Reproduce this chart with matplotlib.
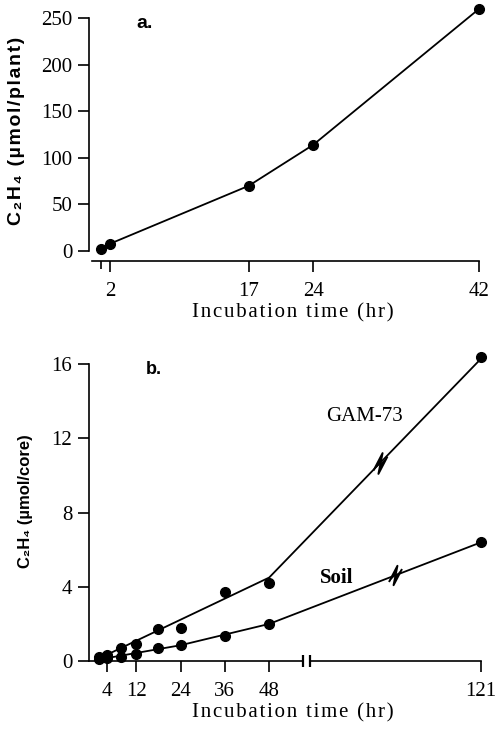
import numpy as np
import matplotlib
matplotlib.use("Agg")
import matplotlib.pyplot as plt
from matplotlib.path import Path

# ---- panel a : per plant ----
hrs_a = [1, 2, 17, 24, 42]
c2h4_a = [2, 8, 70, 114, 260]
xticks_a = [2, 17, 24, 42]
yticks_a = [0, 50, 100, 150, 200, 250]

# ---- panel b : soil cores ----
hrs_b = [2, 4, 8, 12, 18, 24, 36, 48, 121]
gam73 = [0.2, 0.35, 0.7, 0.9, 1.7, 1.8, 3.7, 4.2, 16.4]
soil = [0.1, 0.15, 0.2, 0.4, 0.7, 0.85, 1.35, 2.0, 6.4]
# hand drawn lines of the original
gam73_line_x = [1, 48, 121]
gam73_line_y = [0.05, 4.5, 16.3]
soil_line_x = [1, 24, 48, 121]
soil_line_y = [0.05, 0.85, 2.0, 6.4]
xticks_b = [4, 12, 24, 36, 48, 121]
yticks_b = [0, 4, 8, 12, 16]

SERIF = ["Liberation Serif", "DejaVu Serif"]
SANS = ["Liberation Sans", "DejaVu Sans"]
plt.rcParams["font.family"] = SERIF

def spaced(s, sep="\u200a"):
    # the original labels are letter spaced
    return sep.join(s)

XLABEL = spaced("Incubation time (hr)")

# axis compressed after 48 h (broken axis)
K = 0.786
def fwd(x):
    x = np.asarray(x, float)
    return np.where(x <= 48, x, 48 + (x - 48) * K)
def inv(y):
    y = np.asarray(y, float)
    return np.where(y <= 48, y, 48 + (y - 48) / K)

# little zig-zag break mark drawn on the lines
zig = Path([(-0.5, -0.5), (0.15, 0.75), (-0.15, -0.75), (0.5, 0.5)],
           [Path.MOVETO, Path.LINETO, Path.LINETO, Path.LINETO])

W, H = 501, 730
fig = plt.figure(figsize=(W / 100, H / 100), dpi=100)

def style(ax):
    for s in ["top", "right"]:
        ax.spines[s].set_visible(False)
    for s in ["left", "bottom"]:
        ax.spines[s].set_linewidth(1.2)
    ax.tick_params(which="both", direction="out", width=1.2, length=8, pad=4,
                   labelsize=15)
    ax.tick_params(axis="x", which="both", pad=7)
    ax.tick_params(axis="x", which="minor", length=6)

# ---------------- a ----------------
ax1 = fig.add_axes([89 / W, (H - 251) / H, 391 / W, 244 / H])
style(ax1)
ax1.plot(hrs_a, c2h4_a, "k-", lw=1.3, marker="o", ms=7, clip_on=False)
ax1.set_xlim(-0.33, 42.1)
ax1.set_ylim(0, 262)
ax1.spines["bottom"].set_position(("outward", 7.5))
ax1.spines["bottom"].set_bounds(0, 42)
ax1.spines["left"].set_bounds(0, 250)
ax1.set_xticks(xticks_a)
ax1.set_xticks([1], minor=True)
ax1.set_yticks(yticks_a)
ax1.set_xlabel(XLABEL, fontsize=15)
ax1.xaxis.set_label_coords((293 - 89) / 391, -(303 - 251) / 244)
ax1.set_ylabel(spaced("C₂H₄ (µmol/plant)"), family=SANS, fontweight="bold",
               fontsize=14)
ax1.yaxis.set_label_coords(-(89 - 25) / 391, (251 - 131) / 244)
ax1.text(0.143, 0.934, "a.", transform=ax1.transAxes, family=SANS,
         fontweight="bold", fontsize=14, ha="center", va="center")

# ---------------- b ----------------
ax2 = fig.add_axes([89 / W, (H - 661) / H, 392 / W, 306 / H])
style(ax2)
ax2.set_xscale("function", functions=(fwd, inv))
ax2.set_xlim(-0.8, 121)
ax2.set_ylim(0, 16.5)
ax2.spines["left"].set_bounds(0, 16)
ax2.spines["bottom"].set_visible(False)
# broken x axis line
ax2.plot([-0.8, 59.8], [0, 0], "k-", lw=1.2, clip_on=False)
ax2.plot([62.2, 121], [0, 0], "k-", lw=1.2, clip_on=False)
ax2.plot([59.8, 62.2], [0, 0], ls="none", marker="|", ms=9, mew=1.6,
         color="k", clip_on=False)

ax2.plot(gam73_line_x, gam73_line_y, "k-", lw=1.3)
ax2.plot(soil_line_x, soil_line_y, "k-", lw=1.3)
ax2.plot(hrs_b, gam73, "ko", ms=7, clip_on=False)
ax2.plot(hrs_b, soil, "ko", ms=7, clip_on=False)
ax2.plot([86.3], [np.interp(86.3, gam73_line_x, gam73_line_y)], ls="none",
         marker=zig, ms=15, mew=1.4, color="k")
ax2.plot([91.4], [np.interp(91.4, soil_line_x, soil_line_y)], ls="none",
         marker=zig, ms=14, mew=1.4, color="k")

ax2.set_xticks(xticks_b)
ax2.set_yticks(yticks_b)
ax2.set_xlabel(XLABEL, fontsize=15)
ax2.xaxis.set_label_coords((293 - 89) / 392, -(703 - 661) / 306)
ax2.set_ylabel("C₂H₄ (µmol/core)", family=SANS, fontweight="bold",
               fontsize=12)
ax2.yaxis.set_label_coords(-(89 - 33) / 392, (661 - 501) / 306)
ax2.text(0.166, 0.954, "b.", transform=ax2.transAxes, family=SANS,
         fontweight="bold", fontsize=13, ha="center", va="center")
ax2.text(81, 13.2, "GAM-73", fontsize=15, ha="center", va="center")
ax2.text(71.3, 4.47, "Soil", fontsize=15, fontweight="bold", ha="center",
         va="center")

fig.savefig("out.png", dpi=100)
